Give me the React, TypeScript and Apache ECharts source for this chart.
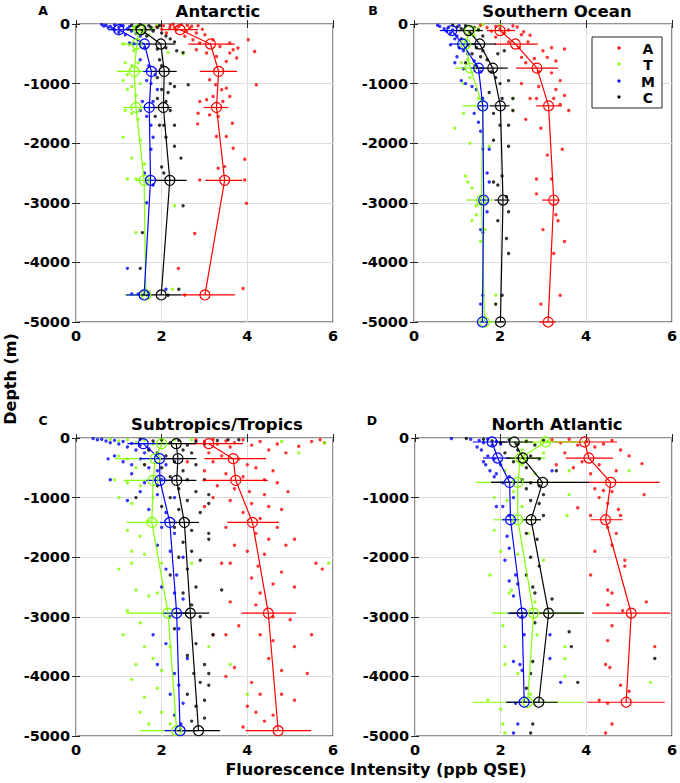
import React, { useEffect, useRef } from "react";
import * as echarts from "echarts";

// ---------- shared ----------
const groupNames = ["A", "T", "M", "C"];
const groupColors = ["#ff0000", "#7fff00", "#0000ff", "#000000"];
const regionTitles = ["Antarctic", "Southern Ocean", "Subtropics/Tropics", "North Atlantic"];
const panelLetters = ["A", "B", "C", "D"];
const xTicks = [0, 2, 4, 6];
const yTicks = [0, -1000, -2000, -3000, -4000, -5000];

// ---------- Antarctic ----------
const antDepth = [-96, -336, -796, -1401, -2623, -4546];
const antMeanA = [2.43, 3.14, 3.33, 3.28, 3.47, 3.01];
const antLoA = [2.0, 2.62, 2.89, 2.98, 3.02, 2.46];
const antHiA = [2.85, 3.71, 3.76, 3.56, 3.88, 3.71];
const antMeanT = [1.47, 1.42, 1.36, 1.4, 1.59, 1.63];
const antLoT = [1.2, 1.06, 0.95, 1.1, 1.41, 1.14];
const antHiT = [1.75, 1.65, 1.72, 1.65, 1.69, 1.69];
const antMeanM = [1.0, 1.6, 1.76, 1.71, 1.74, 1.59];
const antLoM = [0.75, 1.3, 1.57, 1.57, 1.65, 1.17];
const antHiM = [1.3, 1.69, 1.96, 1.88, 1.84, 1.72];
const antMeanC = [1.52, 1.98, 2.06, 2.04, 2.19, 1.99];
const antLoC = [1.2, 1.65, 1.76, 1.8, 1.84, 1.49];
const antHiC = [1.85, 2.32, 2.35, 2.23, 2.58, 2.46];
const antPtsA = [[1.88,-39],[2.04,-28],[2.19,-67],[2.35,-95],[2.46,-11],[2.58,-123],[2.7,-39],[2.81,-151],[2.11,-151],[2.27,-5],[2.54,-207],[2.73,-263],[2.89,-319],[3.01,-179],[3.2,-263],[3.36,-376],[3.59,-319],[3.67,-432],[3.78,-404],[4.02,-263],[4.17,-460],[3.59,-488],[3.05,-488],[2.81,-432],[3.28,-544],[3.51,-628],[3.75,-572],[4.21,-1020],[3.26,-1020],[3.4,-1104],[3.51,-1076],[3.12,-936],[3.2,-1216],[3.05,-1272],[2.89,-1300],[3.43,-1300],[3.59,-1216],[2.85,-1497],[3.12,-1525],[3.32,-1553],[3.65,-1665],[2.84,-1676],[3.28,-1889],[3.51,-1889],[3.67,-2085],[3.94,-2270],[3.47,-2393],[3.32,-2421],[2.89,-2618],[3.94,-2618],[3.98,-3010],[2.77,-3514],[2.39,-4103],[3.9,-4439],[2.54,-4546],[2.3,-60],[2.6,-20],[2.95,-90],[2.2,-20],[2.4,-45],[2.65,-70],[2.0,-90],[2.85,-30]];
const antPtsT = [[1.1,-330],[1.25,-350],[1.35,-450],[1.15,-650],[1.3,-700],[1.45,-650],[1.2,-850],[1.1,-950],[1.3,-1050],[1.5,-1000],[1.2,-1100],[1.4,-1200],[1.15,-1450],[1.3,-1500],[1.45,-1600],[1.1,-1900],[1.5,-1950],[1.3,-2250],[1.6,-2350],[1.2,-2600],[1.4,-2600],[1.4,-3500],[2.3,-3050],[1.65,-4550],[2.25,-4450],[1.55,-4550],[1.8,-70],[1.9,-20],[1.5,-100],[2.5,-500],[2.15,-480],[1.7,-180],[1.6,-30],[1.35,-60]];
const antPtsM = [[0.6,-10],[0.7,-20],[0.8,-40],[0.9,-15],[1.0,-60],[1.1,-30],[1.2,-80],[1.3,-120],[1.0,-140],[0.9,-100],[1.4,-160],[1.5,-200],[1.25,-320],[1.35,-330],[1.6,-400],[1.5,-600],[1.7,-700],[1.85,-850],[1.65,-950],[1.75,-1000],[1.9,-1100],[1.55,-1300],[1.8,-1300],[1.5,-1450],[1.65,-1550],[1.75,-1700],[1.8,-1900],[1.75,-2100],[1.6,-2500],[1.8,-2700],[1.65,-3000],[1.2,-4100],[1.3,-4530],[1.45,-4530],[2.1,-4450],[1.7,-4500],[0.75,-60],[1.15,-180],[0.65,-35],[0.85,-75],[1.05,-25],[1.25,-45]];
const antPtsC = [[1.3,-20],[1.4,-50],[1.5,-10],[1.6,-80],[1.7,-30],[1.8,-120],[1.9,-60],[2.0,-150],[2.1,-200],[1.55,-150],[1.65,-200],[2.2,-250],[2.3,-300],[2.1,-400],[1.9,-420],[2.35,-450],[2.5,-480],[1.95,-600],[2.0,-700],[1.9,-900],[2.2,-1000],[2.62,-1020],[2.3,-1050],[2.0,-1100],[2.15,-1150],[1.9,-1250],[2.1,-1300],[2.2,-1450],[1.85,-1550],[1.95,-1700],[2.05,-1700],[2.3,-1700],[2.1,-1900],[2.3,-2050],[2.45,-2250],[2.0,-2400],[2.05,-2500],[2.5,-3050],[1.55,-3500],[1.5,-4100],[2.4,-4450],[2.15,-4550],[1.45,-35],[1.75,-55],[1.95,-25]];

// ---------- Southern Ocean ----------
const soDepth = [-110, -336, -740, -1373, -2954, -5000];
const soMeanA = [2.0, 2.36, 2.86, 3.13, 3.25, 3.12];
const soLoA = [1.7, 1.87, 2.37, 2.84, 2.98, 2.91];
const soHiA = [2.35, 2.88, 3.35, 3.44, 3.39, 3.3];
const soMeanT = [1.3, 1.2, 1.31, 1.6, 1.57, 1.64];
const soLoT = [1.05, 0.95, 0.95, 1.13, 1.22, 1.57];
const soHiT = [1.55, 1.45, 1.57, 1.69, 1.84, 1.92];
const soMeanM = [0.88, 1.13, 1.5, 1.6, 1.62, 1.59];
const soLoM = [0.6, 0.83, 1.33, 1.51, 1.53, 1.51];
const soHiM = [1.15, 1.53, 1.65, 1.69, 1.72, 1.69];
const soMeanC = [1.27, 1.53, 1.83, 2.01, 2.07, 2.01];
const soLoC = [0.95, 1.22, 1.37, 1.76, 1.87, 1.9];
const soHiC = [1.6, 1.91, 2.18, 2.22, 2.22, 2.1];
const soPtsA = [[1.55,-20],[1.7,-60],[1.8,-120],[1.9,-40],[2.0,-80],[2.1,-150],[2.2,-100],[2.3,-30],[2.4,-50],[2.5,-180],[2.55,-130],[2.7,-190],[1.9,-220],[2.2,-300],[2.65,-300],[2.45,-400],[3.0,-450],[3.2,-400],[3.5,-420],[2.5,-560],[2.6,-650],[2.8,-580],[3.1,-560],[3.3,-620],[2.9,-800],[3.2,-820],[3.4,-950],[2.5,-1000],[2.9,-1050],[3.3,-1100],[3.5,-1200],[2.7,-1250],[2.85,-1250],[3.25,-1250],[3.4,-1350],[3.6,-1450],[2.6,-1600],[2.95,-1750],[3.45,-2100],[3.1,-2200],[2.85,-2600],[2.85,-2850],[3.2,-2600],[3.3,-3200],[3.35,-3300],[3.0,-3450],[3.5,-3650],[3.25,-3850],[3.4,-4550],[2.95,-4700]];
const soPtsT = [[1.3,-40],[1.5,-70],[1.6,-10],[2.0,-20],[1.4,-200],[1.2,-300],[1.1,-650],[1.25,-600],[1.15,-1000],[1.3,-900],[1.5,-1250],[1.15,-1500],[2.3,-1250],[0.95,-1750],[1.3,-2000],[1.75,-2050],[1.2,-2550],[1.25,-2650],[1.35,-2750],[1.45,-3050],[1.35,-3300],[1.65,-3450],[1.55,-3650],[1.9,-4550],[1.9,-4700],[2.3,-1450],[1.45,-3200]];
const soPtsM = [[0.55,-20],[0.6,-40],[0.7,-80],[0.75,-120],[0.8,-60],[0.85,-150],[0.9,-100],[1.0,-200],[1.05,-30],[0.95,-250],[0.85,-350],[1.05,-400],[1.15,-450],[1.0,-550],[1.25,-500],[0.95,-650],[1.4,-620],[1.15,-750],[1.55,-800],[1.1,-950],[1.2,-1000],[1.35,-1050],[1.45,-1100],[1.6,-1250],[1.4,-1500],[1.5,-1650],[1.55,-1800],[1.6,-2100],[1.75,-2100],[1.7,-2500],[1.75,-2650],[1.7,-3150],[1.55,-3450],[1.6,-3500],[1.55,-4700],[1.6,-4550]];
const soPtsC = [[0.9,-20],[1.0,-50],[1.1,-80],[1.2,-30],[1.3,-150],[1.4,-60],[1.5,-100],[1.6,-200],[1.1,-250],[1.25,-350],[1.45,-400],[1.6,-450],[1.35,-500],[1.55,-550],[1.7,-600],[1.95,-500],[2.1,-450],[1.2,-650],[1.45,-700],[1.8,-800],[1.9,-900],[2.0,-1000],[2.2,-950],[1.75,-1150],[2.05,-1250],[2.3,-1250],[2.3,-1450],[1.85,-1500],[2.0,-1700],[2.2,-1700],[1.85,-1950],[2.2,-2050],[2.05,-2550],[1.85,-2650],[1.95,-2700],[2.15,-2900],[2.2,-3150],[1.95,-3300],[2.15,-3600],[2.2,-3850],[2.05,-4550],[1.9,-4700]];

// ---------- Subtropics/Tropics ----------
const tropDepth = [-95, -347, -711, -1417, -2940, -4911];
const tropMeanA = [3.1, 3.67, 3.73, 4.12, 4.49, 4.72];
const tropLoA = [2.6, 3.0, 2.95, 3.53, 3.86, 3.96];
const tropHiA = [3.9, 4.44, 4.48, 4.74, 5.13, 5.49];
const tropMeanT = [2.0, 1.85, 1.8, 1.77, 2.15, 2.35];
const tropLoT = [1.5, 0.91, 1.11, 1.18, 1.18, 1.49];
const tropHiT = [2.5, 1.96, 2.1, 1.96, 2.73, 2.81];
const tropMeanM = [1.57, 1.95, 1.96, 2.19, 2.35, 2.43];
const tropLoM = [1.2, 1.49, 1.64, 1.96, 2.03, 2.07];
const tropHiM = [1.95, 2.45, 2.34, 2.43, 2.65, 2.81];
const tropMeanC = [2.34, 2.38, 2.35, 2.53, 2.67, 2.86];
const tropLoC = [1.9, 1.96, 2.07, 2.19, 2.27, 2.35];
const tropHiC = [2.8, 2.81, 2.81, 2.87, 3.11, 3.36];
const tropPtsA = [[2.8,-30],[3.0,-60],[3.2,-20],[3.3,-100],[3.5,-50],[3.6,-150],[3.7,-80],[3.9,-30],[4.1,-120],[4.3,-60],[4.5,-200],[4.7,-100],[4.9,-250],[5.2,-140],[5.5,-60],[5.7,-30],[5.8,-80],[3.1,-250],[3.4,-300],[3.2,-400],[3.8,-350],[4.0,-450],[4.2,-500],[4.6,-550],[3.0,-550],[3.5,-600],[3.9,-650],[4.4,-700],[4.7,-750],[3.3,-800],[3.7,-850],[4.05,-900],[4.4,-950],[4.95,-900],[3.2,-1000],[3.6,-1050],[4.1,-1100],[4.5,-1150],[3.0,-1150],[4.8,-1200],[3.9,-1250],[4.3,-1350],[3.5,-1500],[4.7,-1500],[4.2,-1600],[4.5,-1700],[4.9,-1800],[5.1,-1700],[3.7,-1800],[4.0,-1900],[4.4,-1950],[3.4,-2100],[3.6,-2100],[4.25,-2150],[4.8,-2250],[5.6,-2100],[5.75,-2200],[4.1,-2350],[4.3,-2600],[4.6,-2450],[5.1,-2500],[3.6,-2750],[4.2,-2800],[4.6,-3000],[3.8,-3150],[5.0,-3050],[4.3,-3300],[4.6,-3400],[5.5,-3300],[3.5,-3300],[5.1,-3500],[3.7,-3850],[4.5,-3700],[4.8,-3900],[5.4,-3950],[4.1,-4100],[3.5,-4000],[4.3,-4300],[4.8,-4300],[5.1,-4400],[4.2,-4600],[4.4,-4750],[4.0,-4500],[4.6,-4650],[3.9,-4850],[2.6,-400],[3.2,-3300]];
const tropPtsT = [[0.8,-20],[1.0,-50],[1.2,-30],[1.4,-80],[1.6,-40],[1.8,-100],[2.0,-60],[2.3,-30],[2.7,-30],[4.8,-60],[5.2,-250],[5.8,-80],[1.0,-300],[1.2,-350],[1.4,-500],[1.6,-450],[0.9,-700],[1.2,-750],[1.5,-800],[1.0,-1000],[1.3,-1100],[1.8,-1000],[1.2,-1550],[1.5,-1650],[1.7,-1400],[1.3,-1900],[1.6,-1950],[1.0,-2200],[1.3,-2100],[2.0,-2100],[5.9,-2100],[1.4,-2550],[1.7,-2650],[1.9,-2600],[1.2,-2900],[1.5,-3100],[1.1,-3300],[1.6,-3500],[2.2,-3500],[1.8,-3700],[1.4,-3800],[2.0,-3900],[1.3,-4050],[1.6,-4350],[1.9,-4200],[1.5,-4600],[2.0,-4600],[1.7,-4800],[2.2,-4800],[3.1,-3500],[3.6,-3800],[4.0,-4300],[2.7,-2100]];
const tropPtsM = [[0.4,-10],[0.5,-30],[0.6,-20],[0.7,-50],[0.8,-80],[0.9,-40],[1.0,-100],[1.1,-60],[1.2,-150],[1.3,-90],[1.4,-200],[1.5,-120],[1.6,-250],[1.7,-180],[0.75,-350],[0.9,-300],[1.1,-400],[1.3,-450],[1.5,-350],[1.7,-500],[1.9,-550],[2.1,-450],[0.8,-700],[1.3,-600],[1.6,-750],[2.0,-700],[1.2,-1050],[1.5,-900],[1.9,-950],[2.3,-1000],[1.7,-1200],[2.1,-1250],[2.0,-1500],[2.3,-1600],[1.9,-1800],[2.2,-1900],[2.5,-2000],[2.1,-2200],[2.35,-2300],[2.0,-2500],[2.3,-2600],[2.5,-2700],[2.2,-3000],[1.8,-3300],[2.4,-3200],[2.1,-3450],[2.6,-3700],[1.9,-3800],[2.3,-3950],[2.4,-4150],[2.2,-4300],[2.5,-4450],[2.3,-4650],[2.45,-4800]];
const tropPtsC = [[1.5,-20],[1.8,-50],[2.0,-30],[2.2,-80],[2.4,-40],[2.6,-120],[2.8,-60],[3.0,-100],[3.3,-40],[3.55,-30],[3.8,-30],[1.7,-200],[1.9,-250],[2.1,-300],[2.5,-200],[2.7,-250],[2.3,-400],[1.6,-450],[2.0,-500],[2.5,-550],[2.8,-450],[2.2,-650],[2.6,-700],[3.0,-700],[1.9,-800],[2.4,-850],[2.8,-900],[3.1,-950],[1.4,-1000],[2.2,-1000],[2.6,-1050],[3.1,-1100],[2.0,-1150],[2.4,-1200],[2.9,-1250],[2.3,-1500],[2.7,-1550],[3.1,-1600],[3.1,-1700],[2.5,-1750],[2.7,-1900],[2.4,-2000],[2.9,-2050],[2.6,-2200],[2.2,-2300],[2.8,-2500],[3.4,-2550],[2.5,-2600],[2.7,-2800],[2.9,-3000],[2.3,-3200],[3.2,-3300],[2.8,-3450],[2.6,-3650],[3.0,-3800],[2.75,-3950],[3.1,-3950],[2.9,-4100],[3.1,-4150],[2.6,-4300],[2.8,-4500],[3.0,-4700],[2.7,-4750],[3.0,-4400]];

// ---------- North Atlantic ----------
const naDepth = [-67, -336, -745, -1372, -2940, -4434];
const naMeanA = [3.96, 4.06, 4.57, 4.45, 5.05, 4.93];
const naLoA = [3.21, 3.52, 3.99, 4.1, 4.14, 4.02];
const naHiA = [4.72, 4.62, 5.71, 4.85, 5.96, 5.83];
const naMeanT = [3.05, 2.46, 2.4, 2.4, 2.77, 2.63];
const naLoT = [2.3, 2.1, 1.43, 1.83, 1.8, 1.35];
const naHiT = [3.98, 3.05, 3.83, 2.93, 3.9, 3.95];
const naMeanM = [1.8, 1.93, 2.21, 2.23, 2.5, 2.55];
const naLoM = [1.35, 1.59, 1.78, 2.03, 2.16, 2.13];
const naHiM = [2.15, 2.21, 2.49, 2.43, 2.82, 2.9];
const naMeanC = [2.32, 2.52, 2.98, 2.71, 3.12, 2.89];
const naLoC = [1.9, 2.13, 1.78, 2.5, 2.21, 2.13];
const naHiC = [2.75, 2.94, 4.06, 2.94, 3.95, 3.33];
const naPtsA = [[3.2,-30],[3.4,-80],[3.6,-20],[3.8,-120],[4.0,-60],[4.2,-150],[4.4,-100],[4.6,-40],[4.8,-200],[5.0,-300],[3.5,-250],[3.9,-400],[4.3,-450],[3.3,-450],[5.3,-430],[4.7,-550],[4.1,-600],[3.7,-500],[4.2,-850],[4.4,-880],[4.6,-900],[5.35,-950],[4.3,-1000],[4.5,-1100],[4.75,-1200],[3.8,-1170],[4.1,-1300],[4.8,-1300],[4.5,-1500],[4.7,-1600],[4.6,-1800],[4.2,-1900],[4.9,-2050],[4.9,-2150],[4.1,-2300],[4.5,-2550],[4.6,-2600],[5.4,-2750],[4.5,-2800],[4.85,-2900],[4.6,-3150],[4.5,-3400],[5.6,-3500],[4.45,-3800],[4.55,-3850],[4.8,-4150],[5.0,-4250],[4.3,-4400],[4.5,-4450],[4.6,-4800],[4.45,-4950]];
const naPtsT = [[2.2,-20],[2.6,-40],[2.8,-100],[3.0,-30],[3.1,-60],[2.5,-200],[3.0,-250],[2.6,-350],[2.5,-450],[3.6,-550],[2.1,-550],[2.8,-600],[2.3,-900],[1.85,-1000],[2.15,-1050],[3.6,-950],[1.85,-1550],[2.5,-1150],[3.55,-1300],[2.65,-1600],[2.4,-1950],[1.75,-2300],[2.0,-1900],[2.25,-2550],[2.2,-2600],[3.0,-2050],[2.8,-2750],[2.05,-3150],[2.1,-3500],[2.1,-3800],[2.4,-3950],[2.85,-3300],[3.5,-3500],[3.5,-3700],[3.5,-4000],[2.7,-4300],[1.7,-4400],[2.0,-4550],[2.05,-4800],[2.1,-4950],[5.5,-4100],[5.0,-550]];
const naPtsM = [[0.85,-10],[1.3,-20],[1.5,-40],[1.6,-80],[1.7,-20],[1.8,-120],[1.9,-60],[2.0,-100],[1.45,-150],[1.55,-200],[1.7,-300],[1.85,-350],[1.6,-400],[1.65,-450],[2.0,-450],[1.9,-600],[1.75,-550],[2.2,-650],[1.85,-650],[2.05,-750],[3.2,-550],[2.3,-1000],[1.9,-1150],[2.05,-1150],[2.2,-1300],[2.15,-1650],[2.2,-1850],[2.1,-2050],[2.35,-2300],[2.2,-2400],[2.4,-2450],[2.3,-2650],[2.5,-3000],[2.55,-3300],[2.3,-3750],[2.45,-3800],[2.5,-3900],[3.15,-3300],[3.15,-3700],[3.4,-4100],[2.35,-4450],[2.4,-4800],[2.3,-4950]];
const naPtsC = [[1.2,-10],[1.6,-20],[1.8,-50],[2.0,-80],[2.2,-30],[2.4,-100],[2.6,-60],[2.8,-120],[3.0,-40],[2.1,-250],[2.4,-200],[2.7,-300],[2.9,-350],[2.3,-400],[2.6,-500],[3.3,-550],[2.5,-700],[2.7,-750],[2.6,-850],[2.9,-800],[3.0,-950],[2.7,-1050],[2.9,-1100],[3.0,-1300],[2.6,-1600],[2.85,-1700],[2.7,-2000],[2.9,-2150],[2.6,-2300],[2.75,-2500],[2.8,-2600],[3.2,-2700],[2.8,-3100],[3.6,-3250],[3.65,-3500],[2.75,-3750],[2.7,-3950],[3.8,-4100],[2.6,-4200],[2.75,-4800],[2.7,-4950],[5.6,-3700]];

// ---------- assemble ----------
const regions = [
  { depth: antDepth, mean: [antMeanA, antMeanT, antMeanM, antMeanC], lo: [antLoA, antLoT, antLoM, antLoC], hi: [antHiA, antHiT, antHiM, antHiC], pts: [antPtsA, antPtsT, antPtsM, antPtsC] },
  { depth: soDepth, mean: [soMeanA, soMeanT, soMeanM, soMeanC], lo: [soLoA, soLoT, soLoM, soLoC], hi: [soHiA, soHiT, soHiM, soHiC], pts: [soPtsA, soPtsT, soPtsM, soPtsC] },
  { depth: tropDepth, mean: [tropMeanA, tropMeanT, tropMeanM, tropMeanC], lo: [tropLoA, tropLoT, tropLoM, tropLoC], hi: [tropHiA, tropHiT, tropHiM, tropHiC], pts: [tropPtsA, tropPtsT, tropPtsM, tropPtsC] },
  { depth: naDepth, mean: [naMeanA, naMeanT, naMeanM, naMeanC], lo: [naLoA, naLoT, naLoM, naLoC], hi: [naHiA, naHiT, naHiM, naHiC], pts: [naPtsA, naPtsT, naPtsM, naPtsC] },
];

const FONT = '"DejaVu Sans", "Liberation Sans", Arial, sans-serif';
const BOX = "#262626";

const grids = [
  { left: 76, top: 24, width: 257, height: 298 },
  { left: 414, top: 24, width: 259, height: 298 },
  { left: 76, top: 438, width: 257, height: 298 },
  { left: 415, top: 438, width: 258, height: 298 },
];

const plainNum = (v: number) => String(v);

function buildOption() {
  const xAxis: any[] = [];
  const yAxis: any[] = [];
  const series: any[] = [];
  grids.forEach((g, i) => {
    xAxis.push({
      gridIndex: i, type: "value", min: xTicks[0], max: xTicks[xTicks.length - 1], interval: 2,
      axisLine: { show: false },
      axisTick: { inside: true, length: 4, lineStyle: { color: BOX } },
      axisLabel: { fontFamily: FONT, fontWeight: "bold", fontSize: 14.5, color: "#000", margin: 6, formatter: plainNum },
      splitLine: { show: true, lineStyle: { color: "#dedede", width: 1 } },
    });
    xAxis.push({
      gridIndex: i, type: "value", position: "top", min: 0, max: 6, interval: 2,
      axisLine: { show: false }, axisLabel: { show: false }, splitLine: { show: false },
      axisTick: { inside: true, length: 4, lineStyle: { color: BOX } },
    });
    yAxis.push({
      gridIndex: i, type: "value", min: yTicks[yTicks.length - 1], max: yTicks[0], interval: 1000,
      axisLine: { show: false },
      axisTick: { inside: true, length: 4, lineStyle: { color: BOX } },
      axisLabel: { fontFamily: FONT, fontWeight: "bold", fontSize: 14.5, color: "#000", margin: 6, formatter: plainNum },
      splitLine: { show: true, lineStyle: { color: "#dedede", width: 1 } },
    });
    yAxis.push({
      gridIndex: i, type: "value", position: "right", min: -5000, max: 0, interval: 1000,
      axisLine: { show: false }, axisLabel: { show: false }, splitLine: { show: false },
      axisTick: { inside: true, length: 4, lineStyle: { color: BOX } },
    });
  });

  regions.forEach((r, i) => {
    const xi = i * 2;
    const yi = i * 2;
    groupNames.forEach((gname, k) => {
      series.push({
        type: "scatter", name: gname, xAxisIndex: xi, yAxisIndex: yi,
        data: r.pts[k], symbol: "circle", symbolSize: 3.4,
        itemStyle: { color: groupColors[k] }, silent: true, z: 2,
      });
    });
    groupNames.forEach((gname, k) => {
      const c = groupColors[k];
      series.push({
        type: "custom", name: gname + " err", xAxisIndex: xi, yAxisIndex: yi,
        data: r.depth.map((d, j) => [r.lo[k][j], r.hi[k][j], d]),
        encode: { x: [0, 1], y: 2 },
        renderItem: (params: any, api: any) => {
          const p1 = api.coord([api.value(0), api.value(2)]);
          const p2 = api.coord([api.value(1), api.value(2)]);
          return { type: "line", shape: { x1: p1[0], y1: p1[1], x2: p2[0], y2: p2[1] }, style: { stroke: c, lineWidth: 1.2 } };
        },
        silent: true, z: 3,
      });
      series.push({
        type: "line", name: gname + " mean", xAxisIndex: xi, yAxisIndex: yi,
        data: r.depth.map((d, j) => [r.mean[k][j], d]),
        symbol: "circle", symbolSize: 10, showSymbol: true,
        lineStyle: { color: c, width: 1.2 },
        itemStyle: { color: "rgba(255,255,255,0)", borderColor: c, borderWidth: 1.2 },
        silent: true, z: 4,
      });
    });
  });

  const titlePos = [[218, 11], [557, 11], [217, 424], [557, 424]];
  const letterPos = [[43, 10], [373, 10], [43, 420], [372, 420]];
  const graphic: any[] = [];
  const txt = (text: string, x: number, y: number, size: number, extra: any = {}) => ({
    type: "text", x, y, z: 10, ...extra,
    style: { text, fill: "#000", font: `bold ${size}px ${FONT}`, align: "center", verticalAlign: "middle", textAlign: "center", textVerticalAlign: "middle" },
  });
  regionTitles.forEach((t, i) => {
    graphic.push(txt(t, titlePos[i][0], titlePos[i][1], 16.5));
    graphic.push(txt(panelLetters[i], letterPos[i][0], letterPos[i][1], 12.5));
  });
  graphic.push(txt("Fluorescence Intensity (ppb QSE)", 376, 769, 16));
  graphic.push(txt("Depth (m)", 10, 379, 16, { rotation: Math.PI / 2 }));
  // legend box in panel B
  graphic.push({
    type: "rect", shape: { x: 592, y: 37, width: 70, height: 71 }, z: 20,
    style: { fill: "#fff", stroke: BOX, lineWidth: 1 },
  });
  const legendRows = [48, 64, 81, 97];
  groupNames.forEach((gname, k) => {
    graphic.push({ type: "circle", shape: { cx: 619, cy: legendRows[k], r: 1.6 }, z: 21, style: { fill: groupColors[k] } });
    graphic.push({ ...txt(gname, 648, legendRows[k] + 1, 14), z: 21 });
  });

  return {
    animation: false,
    backgroundColor: "#ffffff",
    grid: grids.map((g) => ({ ...g, show: true, borderColor: BOX, borderWidth: 1, backgroundColor: "#fff", containLabel: false })),
    xAxis, yAxis, series, graphic,
  };
}

export default function App() {
  const ref = useRef<HTMLDivElement>(null);
  useEffect(() => {
    if (!ref.current) return;
    const chart = echarts.init(ref.current, undefined, { renderer: "svg" });
    chart.setOption(buildOption() as any);
    return () => chart.dispose();
  }, []);
  return <div ref={ref} style={{ position: "fixed", left: 0, top: 0, width: 680, height: 783, background: "#fff" }} />;
}
